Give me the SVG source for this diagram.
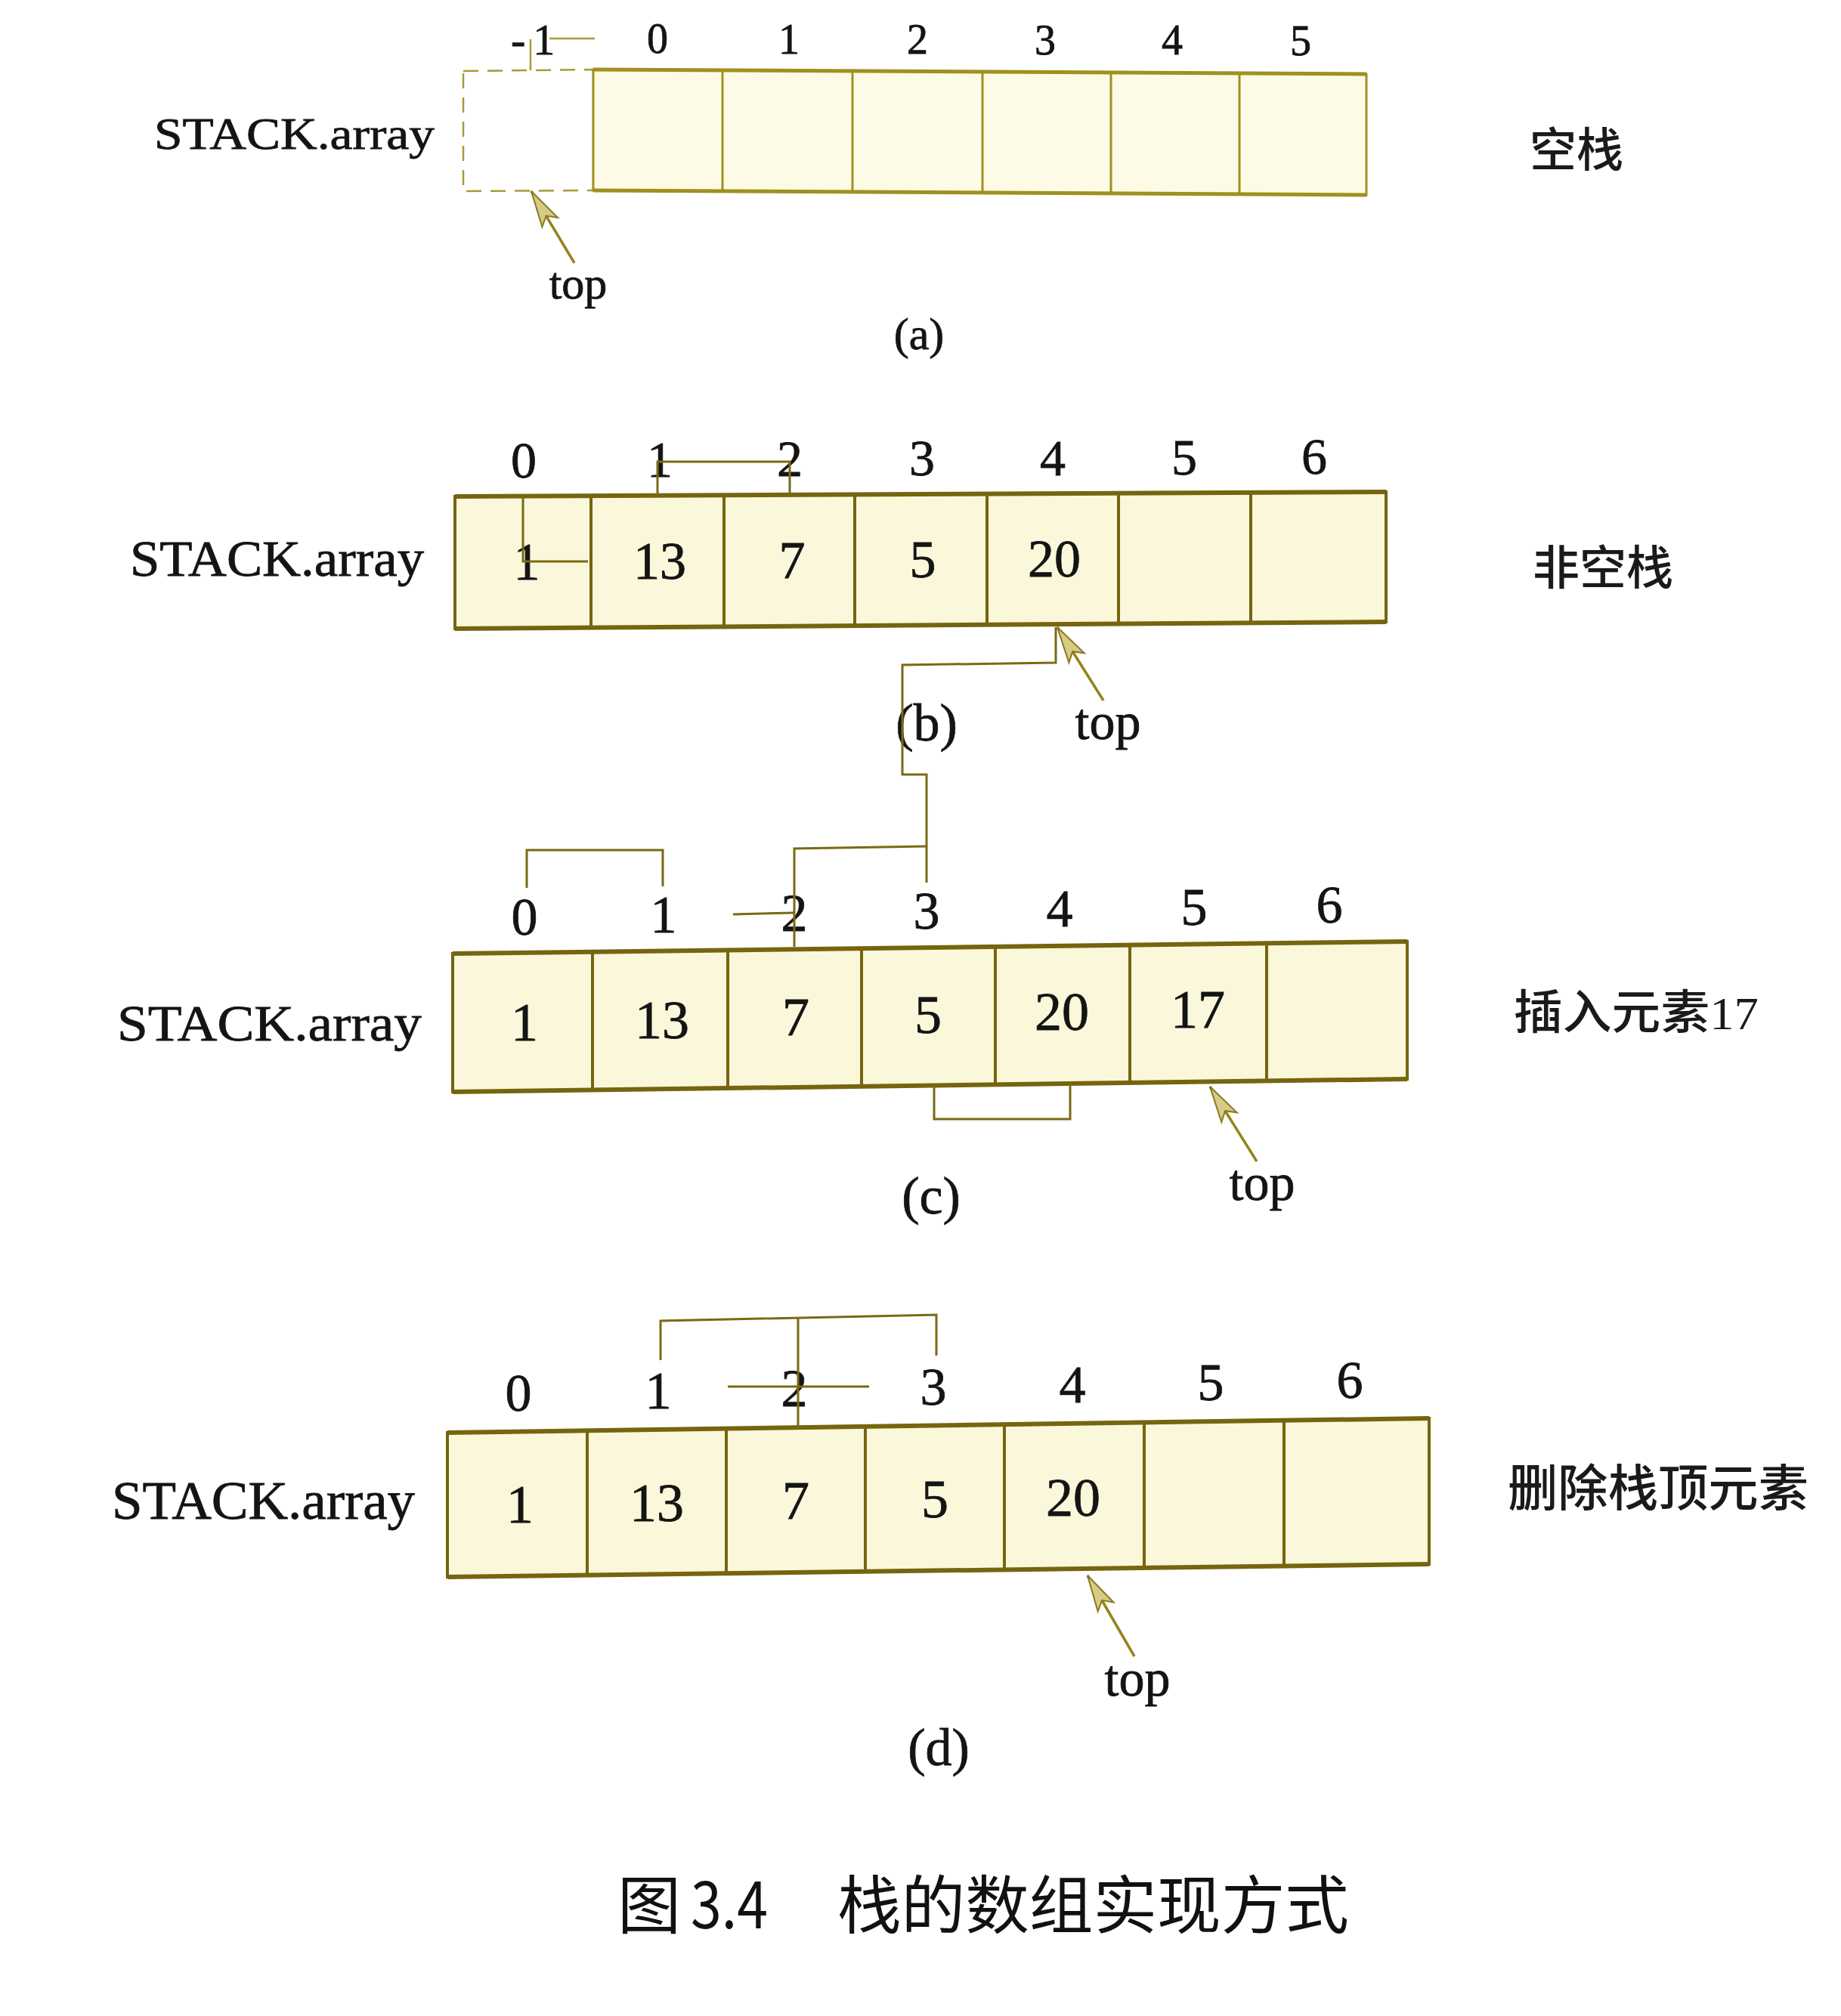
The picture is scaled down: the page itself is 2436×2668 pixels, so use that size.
<svg xmlns="http://www.w3.org/2000/svg" width="2436" height="2668" viewBox="0 0 2436 2668">
<defs>
<style>
.bg{fill:#ffffff}
.arr{fill:#fbf7da;stroke:#76650f;stroke-width:4}
.arrA{fill:#fdfbe6;stroke:#a0901e;stroke-width:3}
.edge{stroke:#76650f;stroke-width:6;fill:none}
.edgeA{stroke:#a0901e;stroke-width:5;fill:none}
.div{stroke:#76650f;stroke-width:4}
.divA{stroke:#a0901e;stroke-width:3}
.dash{fill:#ffffff;stroke:#a89a3a;stroke-width:2.5;stroke-dasharray:20 12}
.t{font-family:"Liberation Serif","Times New Roman",serif;fill:#141414;stroke:#141414;stroke-width:0.8;text-anchor:middle}
.lab{font-family:"Liberation Serif","Times New Roman",serif;fill:#141414;stroke:#141414;stroke-width:0.8}
.cjk{font-family:"Liberation Serif","Noto Sans CJK SC",sans-serif;fill:#1a1a1a;font-weight:500}
.scr{stroke:#7a6a12;stroke-width:3;fill:none}
.scrA{stroke:#a89a3a;stroke-width:2.5;fill:none}
.ptr{stroke:#94841c;stroke-width:3.5;fill:none;marker-end:url(#head)}
</style>
<marker id="head" markerUnits="userSpaceOnUse" viewBox="-52 -16 54 32" markerWidth="54" markerHeight="32" refX="0" refY="0" orient="auto">
<path d="M0,0 L-48,-12 L-38,0 L-48,12 Z" fill="#d6cc86" stroke="#8a7a1c" stroke-width="2"/>
</marker>
</defs>
<rect class="bg" x="0" y="0" width="2436" height="2668"/>

<!-- Panel (a) -->
<g id="panel-a">
<g id="a-cells">
<polygon class="dash" points="613,94 785,92 785,252 613,253"/>
<polygon class="arrA" points="785,92 1808,98 1808,258 785,252"/>
<line class="edgeA" x1="785" y1="92" x2="1808" y2="98"/>
<line class="edgeA" x1="785" y1="252" x2="1808" y2="258"/>
<line class="divA" x1="956" y1="93" x2="956" y2="253"/>
<line class="divA" x1="1128" y1="94" x2="1128" y2="254"/>
<line class="divA" x1="1300" y1="95" x2="1300" y2="255"/>
<line class="divA" x1="1470" y1="96" x2="1470" y2="256"/>
<line class="divA" x1="1640" y1="97" x2="1640" y2="257"/>
</g>
<g id="a-index" style="font-size:56px">
<text class="lab" x="676" y="72" style="font-size:58px">-<tspan dx="10">1</tspan></text>
<text class="t" x="870" y="70">0</text>
<text class="t" x="1044" y="71">1</text>
<text class="t" x="1214" y="71">2</text>
<text class="t" x="1383" y="72">3</text>
<text class="t" x="1551" y="72">4</text>
<text class="t" x="1721" y="73">5</text>
</g>
<text id="a-name" class="lab" x="204" y="197" style="font-size:60px" textLength="371" lengthAdjust="spacingAndGlyphs">STACK.array</text>
<text id="a-desc" class="cjk" x="2024" y="221" style="font-size:62px">空栈</text>
<text id="a-top" class="t" x="765" y="395" style="font-size:60px">top</text>
<text id="a-cap" class="t" x="1216" y="462" style="font-size:60px">(a)</text>
</g>

<!-- Panel (b) -->
<g id="panel-b">
<g id="b-cells">
<polygon class="arr" points="602,657 1834,651 1834,823 602,832"/>
<line class="edge" x1="602" y1="657" x2="1834" y2="651"/>
<line class="edge" x1="602" y1="832" x2="1834" y2="823"/>
<line class="div" x1="782" y1="656" x2="782" y2="831"/>
<line class="div" x1="958" y1="655" x2="958" y2="829"/>
<line class="div" x1="1131" y1="654" x2="1131" y2="828"/>
<line class="div" x1="1306" y1="654" x2="1306" y2="827"/>
<line class="div" x1="1480" y1="653" x2="1480" y2="826"/>
<line class="div" x1="1655" y1="652" x2="1655" y2="824"/>
</g>
<g id="b-index" style="font-size:68px">
<text class="t" x="693" y="632">0</text>
<text class="t" x="873" y="631">1</text>
<text class="t" x="1045" y="630">2</text>
<text class="t" x="1220" y="629">3</text>
<text class="t" x="1393" y="629">4</text>
<text class="t" x="1567" y="628">5</text>
<text class="t" x="1739" y="627">6</text>
</g>
<g id="b-values" style="font-size:70px">
<text class="t" x="697" y="767">1</text>
<text class="t" x="873" y="766">13</text>
<text class="t" x="1048" y="765">7</text>
<text class="t" x="1221" y="764">5</text>
<text class="t" x="1395" y="763">20</text>
</g>
<text id="b-name" class="lab" x="172" y="762" style="font-size:68px" textLength="389" lengthAdjust="spacingAndGlyphs">STACK.array</text>
<text id="b-desc" class="cjk" x="2028" y="774" style="font-size:62px">非空栈</text>
<text id="b-top" class="t" x="1466" y="978" style="font-size:68px">top</text>
<text id="b-cap" class="t" x="1226" y="980" style="font-size:70px">(b)</text>
</g>

<!-- Panel (c) -->
<g id="panel-c">
<g id="c-cells">
<polygon class="arr" points="599,1262 1862,1246 1862,1428 599,1445"/>
<line class="edge" x1="599" y1="1262" x2="1862" y2="1246"/>
<line class="edge" x1="599" y1="1445" x2="1862" y2="1428"/>
<line class="div" x1="784" y1="1260" x2="784" y2="1443"/>
<line class="div" x1="963" y1="1257" x2="963" y2="1440"/>
<line class="div" x1="1140" y1="1255" x2="1140" y2="1438"/>
<line class="div" x1="1317" y1="1253" x2="1317" y2="1435"/>
<line class="div" x1="1495" y1="1251" x2="1495" y2="1433"/>
<line class="div" x1="1676" y1="1248" x2="1676" y2="1431"/>
</g>
<g id="c-index" style="font-size:70px">
<text class="t" x="694" y="1237">0</text>
<text class="t" x="878" y="1234">1</text>
<text class="t" x="1051" y="1232">2</text>
<text class="t" x="1226" y="1229">3</text>
<text class="t" x="1402" y="1226">4</text>
<text class="t" x="1580" y="1224">5</text>
<text class="t" x="1759" y="1221">6</text>
</g>
<g id="c-values" style="font-size:72px">
<text class="t" x="694" y="1377">1</text>
<text class="t" x="876" y="1374">13</text>
<text class="t" x="1053" y="1370">7</text>
<text class="t" x="1228" y="1367">5</text>
<text class="t" x="1405" y="1363">20</text>
<text class="t" x="1585" y="1360">17</text>
</g>
<text id="c-name" class="lab" x="155" y="1377" style="font-size:68px" textLength="403" lengthAdjust="spacingAndGlyphs">STACK.array</text>
<text id="c-desc" class="cjk" x="2003" y="1362" style="font-size:62px" textLength="324" lengthAdjust="spacingAndGlyphs">插入元素17</text>
<text id="c-top" class="t" x="1670" y="1588" style="font-size:68px">top</text>
<text id="c-cap" class="t" x="1232" y="1606" style="font-size:70px">(c)</text>
</g>

<!-- Panel (d) -->
<g id="panel-d">
<g id="d-cells">
<polygon class="arr" points="592,1896 1891,1877 1891,2070 592,2087"/>
<line class="edge" x1="592" y1="1896" x2="1891" y2="1877"/>
<line class="edge" x1="592" y1="2087" x2="1891" y2="2070"/>
<line class="div" x1="777" y1="1893" x2="777" y2="2085"/>
<line class="div" x1="961" y1="1891" x2="961" y2="2082"/>
<line class="div" x1="1145" y1="1888" x2="1145" y2="2080"/>
<line class="div" x1="1329" y1="1885" x2="1329" y2="2077"/>
<line class="div" x1="1514" y1="1883" x2="1514" y2="2075"/>
<line class="div" x1="1699" y1="1880" x2="1699" y2="2073"/>
</g>
<g id="d-index" style="font-size:70px">
<text class="t" x="686" y="1867">0</text>
<text class="t" x="871" y="1864">1</text>
<text class="t" x="1051" y="1861">2</text>
<text class="t" x="1235" y="1859">3</text>
<text class="t" x="1419" y="1856">4</text>
<text class="t" x="1602" y="1853">5</text>
<text class="t" x="1786" y="1850">6</text>
</g>
<g id="d-values" style="font-size:72px">
<text class="t" x="688" y="2015">1</text>
<text class="t" x="869" y="2013">13</text>
<text class="t" x="1053" y="2010">7</text>
<text class="t" x="1237" y="2008">5</text>
<text class="t" x="1420" y="2006">20</text>
</g>
<text id="d-name" class="lab" x="148" y="2010" style="font-size:72px" textLength="401" lengthAdjust="spacingAndGlyphs">STACK.array</text>
<text id="d-desc" class="cjk" x="1995" y="1993" style="font-size:66px" textLength="398" lengthAdjust="spacingAndGlyphs">删除栈顶元素</text>
<text id="d-top" class="t" x="1505" y="2244" style="font-size:68px">top</text>
<text id="d-cap" class="t" x="1242" y="2336" style="font-size:70px">(d)</text>
</g>

<!-- Caption -->
<text id="caption" style="font-family:'Noto Sans CJK SC','Liberation Sans',sans-serif;font-size:84px;font-weight:400;fill:#111111" y="2552"><tspan x="817">图</tspan><tspan x="914" textLength="102" lengthAdjust="spacingAndGlyphs">3.4</tspan><tspan x="1108" textLength="677" lengthAdjust="spacingAndGlyphs">栈的数组实现方式</tspan></text>

<!-- Connectors -->
<g id="connectors">
<path class="ptr" d="M760,348 L703,253"/>
<path class="ptr" d="M1460,927 L1399,830"/>
<path class="ptr" d="M1663,1537 L1601,1438"/>
<path class="ptr" d="M1501,2192 L1439,2085"/>
<!-- panel (a) marks -->
<path class="scrA" d="M702,93 L702,52"/>
<path class="scrA" d="M727,51 L787,51"/>
<!-- panel (b) marks -->
<path class="scr" d="M870,657 L870,611 L1045,611 L1045,657"/>
<path class="scr" d="M692,657 L692,743 L778,743"/>
<!-- (b) to (c) link -->
<path class="scr" d="M1397,830 L1397,877 L1194,880 L1194,1025 L1226,1025 L1226,1168"/>
<path class="scr" d="M1226,1120 L1051,1123 L1051,1253"/>
<path class="scr" d="M970,1210 L1051,1208"/>
<!-- panel (c) marks -->
<path class="scr" d="M697,1175 L697,1125 L877,1125 L877,1173"/>
<path class="scr" d="M1236,1437 L1236,1481 L1416,1481 L1416,1431"/>
<!-- panel (d) marks -->
<path class="scr" d="M874,1800 L874,1748 L1239,1740 L1239,1794"/>
<path class="scr" d="M1056,1745 L1056,1890"/>
<path class="scr" d="M963,1835 L1150,1835"/>
</g>
</svg>
